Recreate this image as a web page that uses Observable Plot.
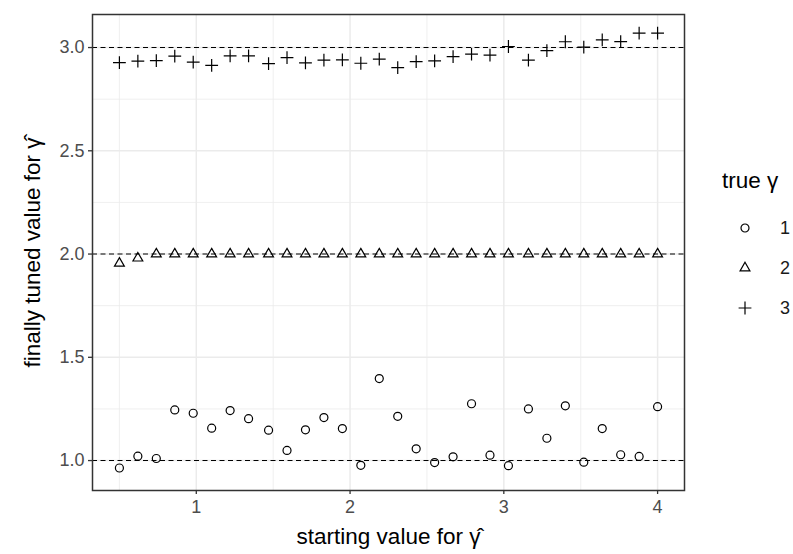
<!DOCTYPE html>
<html><head><meta charset="utf-8">
<script src="https://cdn.jsdelivr.net/npm/d3@7"></script>
<script src="https://cdn.jsdelivr.net/npm/@observablehq/plot@0.6"></script>
<style>
body{margin:0;background:#fff;font-family:"Liberation Sans",Arial,sans-serif;}
#wrap{position:relative;width:793px;height:554px;}
#legend{position:absolute;left:0;top:0;width:793px;height:554px;pointer-events:none;font-family:"Liberation Sans",Arial,sans-serif;}
#legend .title{position:absolute;left:722px;top:181px;transform:translateY(-50%);font-size:22.5px;color:#000;white-space:nowrap;}
#legend .sym{position:absolute;left:733px;width:24px;height:24px;}
#legend .lab{position:absolute;left:780px;transform:translateY(-50%);font-size:18px;color:#1a1a1a;}
</style></head><body><div id="wrap"><div id="legend"></div></div>
<script>
const startValues = [0.50,0.62,0.74,0.86,0.98,1.10,1.22,1.34,1.47,1.59,1.71,1.83,1.95,2.07,2.19,2.31,2.43,2.55,2.67,2.79,2.91,3.03,3.16,3.28,3.40,3.52,3.64,3.76,3.88,4.00];
const tunedGamma1 = [0.964,1.021,1.010,1.245,1.229,1.157,1.242,1.203,1.147,1.049,1.149,1.208,1.155,0.977,1.397,1.214,1.057,0.990,1.018,1.275,1.026,0.975,1.250,1.108,1.265,0.992,1.155,1.028,1.020,1.261];
const tunedGamma2 = [1.955,1.980,2.000,2.000,2.000,2.000,2.000,2.000,2.000,2.000,2.000,2.000,2.000,2.000,2.000,2.000,2.000,2.000,2.000,2.000,2.000,2.000,2.000,2.000,2.000,2.000,2.000,2.000,2.000,2.000];
const tunedGamma3 = [2.927,2.934,2.937,2.958,2.929,2.914,2.960,2.960,2.922,2.951,2.926,2.939,2.940,2.924,2.944,2.903,2.932,2.935,2.956,2.968,2.963,3.005,2.939,2.985,3.028,3.002,3.037,3.029,3.070,3.070];
const trueGammas = [1, 2, 3];
const symbols = ["circle", "triangle2", "plus"];
const symbolR = [4, 4.7, 4.2];
const xTicks = [1, 2, 3, 4];
const xMinor = [0.5, 1.5, 2.5, 3.5];
const yTicks = [1.0, 1.5, 2.0, 2.5, 3.0];
const yMinor = [1.25, 1.75, 2.25, 2.75];
const xTitle = "starting value for γ̂";
const yTitle = "finally tuned value for γ̂";
const legendTitle = "true γ";

const series = [tunedGamma1, tunedGamma2, tunedGamma3];
const rows = [];
series.forEach((vals, k) => vals.forEach((v, i) => rows.push({start: startValues[i], tuned: v, truth: trueGammas[k]})));

const dotMarks = trueGammas.map((g, k) => Plot.dot(rows.filter(d => d.truth === g), {
  x: "start", y: "tuned", symbol: symbols[k], r: symbolR[k], stroke: "black", strokeWidth: 1.2, fill: "none"
}));

const chart = Plot.plot({
  width: 793, height: 554,
  marginLeft: 92, marginRight: 109, marginTop: 14, marginBottom: 64,
  style: {fontFamily: "Liberation Sans, Arial, sans-serif", fontSize: "18px", background: "white", overflow: "visible"},
  x: {domain: [0.325, 4.175], label: null},
  y: {domain: [0.855, 3.16], label: null},
  marks: [
    Plot.gridX(xMinor, {stroke: "#ebebeb", strokeOpacity: 1, strokeWidth: 0.8}),
    Plot.gridY(yMinor, {stroke: "#ebebeb", strokeOpacity: 1, strokeWidth: 0.8}),
    Plot.gridX(xTicks, {stroke: "#ebebeb", strokeOpacity: 1, strokeWidth: 1.5}),
    Plot.gridY(yTicks, {stroke: "#ebebeb", strokeOpacity: 1, strokeWidth: 1.5}),
    Plot.ruleY(trueGammas, {stroke: "black", strokeWidth: 1.1, strokeDasharray: "5,3.5"}),
    ...dotMarks,
    Plot.frame({stroke: "#333", strokeWidth: 1.5}),
    Plot.axisX(xTicks, {tickSize: 4, tickFormat: () => "", color: "#333", strokeWidth: 1.3, label: null}),
    Plot.axisY(yTicks, {tickSize: 4, tickFormat: () => "", color: "#333", strokeWidth: 1.3, label: null}),
    Plot.axisX(xTicks, {tickSize: 0, tickPadding: 10, tickFormat: d => String(d), color: "#4d4d4d", fontSize: 18, label: null}),
    Plot.axisY(yTicks, {tickSize: 0, tickPadding: 8, tickFormat: ".1f", color: "#4d4d4d", fontSize: 18, label: null}),
    Plot.text([xTitle], {text: d => d, frameAnchor: "bottom", textAnchor: "middle", dy: 53, fontSize: 22.5, fill: "black"}),
    Plot.text([yTitle], {text: d => d, frameAnchor: "left", textAnchor: "middle", dx: -60, rotate: -90, fontSize: 22.5, fill: "black"})
  ]
});
document.getElementById("wrap").prepend(chart);

const legendY = [228, 268, 308];
const legend = d3.select("#legend");
legend.append("div").attr("class", "title").text(legendTitle);
const d3sym = {circle: d3.symbolCircle, triangle2: d3.symbolTriangle2, plus: d3.symbolPlus};
trueGammas.forEach((g, k) => {
  const svg = legend.append("svg").attr("class", "sym").style("top", (legendY[k] - 12) + "px")
    .attr("width", 24).attr("height", 24);
  svg.append("path").attr("transform", "translate(12,12)")
    .attr("d", d3.symbol(d3sym[symbols[k]], Math.PI * symbolR[k] * symbolR[k])())
    .attr("fill", "none").attr("stroke", "black").attr("stroke-width", 1.2);
  legend.append("div").attr("class", "lab").style("top", legendY[k] + "px").text(g);
});
</script></body></html>
